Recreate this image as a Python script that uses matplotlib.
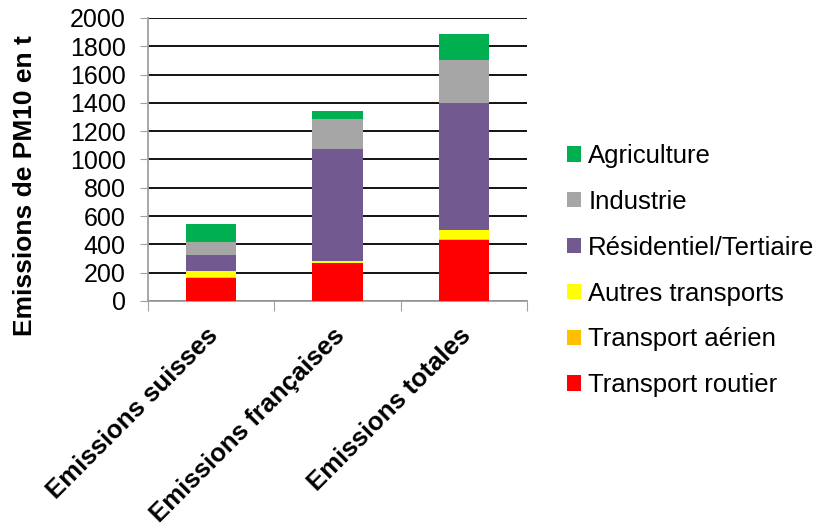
import matplotlib
matplotlib.use("Agg")
import matplotlib.pyplot as plt
import numpy as np
from matplotlib.patches import Patch

categories = ["Emissions suisses", "Emissions françaises", "Emissions totales"]
series_names = ["Transport routier", "Transport aérien", "Autres transports",
                "Résidentiel/Tertiaire", "Industrie", "Agriculture"]
transport_routier = [163, 267, 430]
transport_aerien = [7, 3, 10]
autres_transports = [45, 11, 60]
residentiel = [110, 790, 902]
industrie = [95, 212, 304]
agriculture = [122, 62, 182]
colors = ["#FF0000", "#FFC000", "#FFFF00", "#725A91", "#A6A6A6", "#00B050"]
yticks = [0, 200, 400, 600, 800, 1000, 1200, 1400, 1600, 1800, 2000]

plt.rcParams['font.family'] = ['Liberation Sans', 'DejaVu Sans']
FS = 18.5

fig = plt.figure(figsize=(8.29, 5.26), dpi=100)
ax = fig.add_axes([148/829, 1 - 301/526, (527-148)/829, (301-18)/526])

data = [transport_routier, transport_aerien, autres_transports, residentiel, industrie, agriculture]
x = np.arange(len(categories))
bottom = np.zeros(len(categories))
for vals, c in zip(data, colors):
    ax.bar(x, vals, 0.4, bottom=bottom, color=c, zorder=3)
    bottom += np.array(vals)

ax.set_xlim(-0.5, 2.5)
ax.set_ylim(0, 2000)
ax.set_yticks(yticks)
ax.set_yticklabels([str(v) for v in yticks], fontsize=18)
ax.yaxis.grid(True, color='black', linewidth=1.3, zorder=0)
ax.set_axisbelow(True)
for s in ['top', 'right']:
    ax.spines[s].set_visible(False)
for s in ['left', 'bottom']:
    ax.spines[s].set_color('#A0A0A0')
    ax.spines[s].set_linewidth(1.3)
ax.tick_params(axis='y', direction='out', length=6, color='#A0A0A0', pad=10)
ax.set_xticks([-0.5, 0.5, 1.5, 2.5])
ax.set_xticklabels([])
ax.tick_params(axis='x', direction='out', length=7, color='#A0A0A0')
for i, cat in enumerate(categories):
    ax.text(i - 0.04, -160, cat, rotation=45, ha='right', va='top',
            rotation_mode='anchor', fontsize=FS, fontweight='bold',
            transform=ax.transData, clip_on=False)

fig.text(25/829, 1 - 186/526, "Emissions de PM10 en t", rotation=90,
         ha='center', va='center', fontsize=19, fontweight='bold')

handles = [Patch(facecolor=c, edgecolor='none') for c in colors]
leg = fig.legend(handles[::-1], series_names[::-1], loc='upper left',
                 bbox_to_anchor=(567/829, 1 - 144/526), frameon=False,
                 fontsize=FS, handlelength=0.55, handleheight=0.55,
                 handletextpad=0.28, labelspacing=0.85, borderaxespad=0,
                 borderpad=0)

fig.savefig("out.png", dpi=100)
